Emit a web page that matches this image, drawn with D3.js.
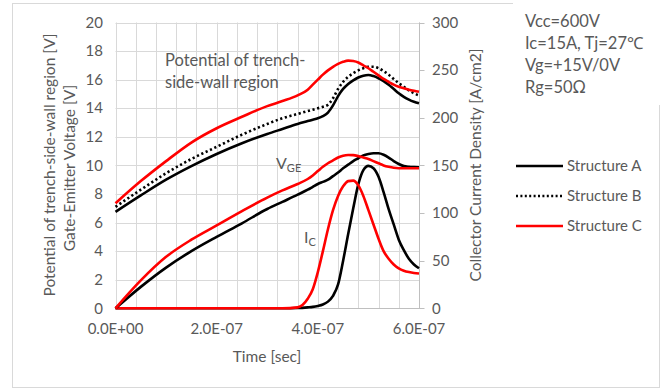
<!DOCTYPE html>
<html><head><meta charset="utf-8">
<script src="https://cdn.jsdelivr.net/npm/d3@7/dist/d3.min.js"></script>
<style>body{margin:0;background:#fff}svg{display:block}text{font-family:Lato,"Open Sans",sans-serif;fill:#595959}</style>
</head><body>
<svg id="c" width="665" height="389"></svg>
<script>
// time grid in units of 1e-8 s
const timeGrid = [0,5,10,15,20,25,30,33,36,38,39,40,41,42,43,44,45,46,47,48,49,50,51,52,53,54,55,56,57,58,59,60];
const potentialA = [6.75,7.9,9.0,9.95,10.8,11.55,12.2,12.55,12.9,13.1,13.2,13.3,13.45,13.7,14.2,14.85,15.35,15.7,15.95,16.15,16.28,16.33,16.25,16.1,15.9,15.65,15.35,15.05,14.8,14.6,14.45,14.35];
const potentialB = [7.1,8.3,9.45,10.45,11.3,12.15,12.9,13.3,13.6,13.8,13.9,14.0,14.1,14.25,14.7,15.35,15.85,16.2,16.45,16.65,16.8,16.9,16.9,16.8,16.6,16.35,16.05,15.75,15.5,15.25,15.05,14.9];
const potentialC = [7.35,8.9,10.3,11.6,12.6,13.4,14.15,14.5,14.9,15.3,15.65,16.0,16.35,16.65,16.9,17.1,17.25,17.33,17.3,17.2,17.0,16.8,16.55,16.3,16.05,15.85,15.65,15.5,15.4,15.3,15.22,15.15];
const vgeA = [0,1.5,2.85,4.0,5.0,5.95,6.95,7.45,7.95,8.3,8.5,8.7,8.85,9.0,9.25,9.5,9.8,10.05,10.3,10.5,10.7,10.8,10.85,10.85,10.75,10.55,10.3,10.1,9.95,9.9,9.88,9.87];
const vgeC = [0,1.95,3.6,4.8,5.8,6.8,7.75,8.25,8.7,9.05,9.3,9.6,9.9,10.15,10.35,10.55,10.68,10.73,10.72,10.65,10.55,10.45,10.3,10.15,10.0,9.9,9.83,9.8,9.8,9.8,9.8,9.8];
const icA = [0,0,0,0,0,0,0,0,0.3,1,1.5,2.5,4,7,13,25,50,78,105,130,145,149.5,147,138,122,104,88,72,61,52,46,42];
const icC = [0,0,0,0,0,0,0,0,1,10,20,38,60,83,103,118,128,133.5,134,129,118,103,88,73,60,52,46,42,39.5,38,37,36.5];
const xTicks = [0,2e-7,4e-7,6e-7];
const leftTicks = [0,2,4,6,8,10,12,14,16,18,20];
const rightTicks = [0,50,100,150,200,250,300];
const infoLines = ["Vcc=600V","Ic=15A, Tj=27\u2103","Vg=+15V/0V","Rg=50\u03A9"];
const legendNames = ["Structure A","Structure B","Structure C"];

const svg = d3.select("#c");
const x = d3.scaleLinear().domain([0,6e-7]).range([115.5,419]);
const yL = d3.scaleLinear().domain([0,20]).range([308.3,22.5]);
const yR = d3.scaleLinear().domain([0,300]).range([308.3,22.5]);
const tSec = timeGrid.map(t=>t*1e-8);

// border
svg.append("rect").attr("x",12.5).attr("y",3.5).attr("width",647).attr("height",384)
  .attr("fill","none").attr("stroke","#d9d9d9");
svg.append("rect").attr("x",513).attr("y",0).attr("width",152).attr("height",105).attr("fill","#fff");

// grid
const g = svg.append("g");
g.selectAll(".vg").data(d3.range(0,16)).enter().append("line")
  .attr("x1",i=>Math.round(x(i*4e-8))+0.5).attr("x2",i=>Math.round(x(i*4e-8))+0.5)
  .attr("y1",yL(20)).attr("y2",yL(0)).attr("stroke","#d9d9d9");
g.selectAll(".hg").data(leftTicks).enter().append("line")
  .attr("x1",x(0)).attr("x2",x(6e-7))
  .attr("y1",d=>Math.round(yL(d))+0.5).attr("y2",d=>Math.round(yL(d))+0.5).attr("stroke","#d9d9d9");

// right axis
const rx = Math.round(x(6e-7))+0.5;
svg.append("line").attr("x1",rx).attr("x2",rx).attr("y1",yR(300)).attr("y2",yR(0)).attr("stroke","#bfbfbf");
svg.selectAll(".rt").data(rightTicks).enter().append("line")
  .attr("x1",rx).attr("x2",rx+5).attr("y1",d=>Math.round(yR(d))+0.5).attr("y2",d=>Math.round(yR(d))+0.5).attr("stroke","#bfbfbf");
svg.append("line").attr("x1",x(0)).attr("x2",rx+3).attr("y1",Math.round(yL(0))+0.5).attr("y2",Math.round(yL(0))+0.5).attr("stroke","#bfbfbf");

// tick labels
svg.selectAll(".lt").data(leftTicks).enter().append("text")
  .attr("x",103).attr("y",d=>yL(d)).attr("dy","0.35em").attr("text-anchor","end")
  .style("font-size","15px").text(d=>d);
svg.selectAll(".rtl").data(rightTicks).enter().append("text")
  .attr("x",432).attr("y",d=>yR(d)).attr("dy","0.35em").attr("text-anchor","start")
  .style("font-size","15px").text(d=>d);
svg.selectAll(".xt").data(xTicks).enter().append("text")
  .attr("x",d=>x(d)).attr("y",329).attr("dy","0.35em").attr("text-anchor","middle")
  .style("font-size","15px").text(d=>d3.format(".1e")(d).replace("e","E").replace(/E([+-])(\d)$/,"E$10$2"));

// axis titles
svg.append("text").attr("transform","translate(55,165) rotate(-90)").attr("text-anchor","middle")
  .style("font-size","15.5px").text("Potential of trench-side-wall region [V]");
svg.append("text").attr("transform","translate(75,168) rotate(-90)").attr("text-anchor","middle")
  .style("font-size","15.5px").text("Gate-Emitter Voltage [V]");
svg.append("text").attr("transform","translate(481,165) rotate(-90)").attr("text-anchor","middle")
  .style("font-size","15.5px").text("Collector Current Density [A/cm2]");
svg.append("text").attr("x",267).attr("y",362).attr("text-anchor","middle")
  .style("font-size","15.5px").text("Time [sec]");

// lines
const lineL = d3.line().x((d,i)=>x(tSec[i])).y(d=>yL(d)).curve(d3.curveMonotoneX);
const lineR = d3.line().x((d,i)=>x(tSec[i])).y(d=>yR(d)).curve(d3.curveMonotoneX);
const series = [
  {v:icA, f:lineR, c:"#000", dash:null},
  {v:icC, f:lineR, c:"#ff0000", dash:null},
  {v:vgeA, f:lineL, c:"#000", dash:null},
  {v:vgeC, f:lineL, c:"#ff0000", dash:null},
  {v:potentialA, f:lineL, c:"#000", dash:null},
  {v:potentialB, f:lineL, c:"#000", dash:"2.2,2.6"},
  {v:potentialC, f:lineL, c:"#ff0000", dash:null}
];
series.forEach(s=>{
  svg.append("path").attr("d",s.f(s.v)).attr("fill","none").attr("stroke",s.c)
    .attr("stroke-width",2.6).attr("stroke-dasharray",s.dash).attr("stroke-linejoin","round");
});

// annotations
svg.append("text").attr("x",165).attr("y",66).style("font-size","16.5px").text("Potential of trench-");
svg.append("text").attr("x",165).attr("y",88).style("font-size","16.5px").text("side-wall region");
const vge = svg.append("text").attr("x",276).attr("y",169).style("font-size","16px");
vge.append("tspan").text("V");
vge.append("tspan").attr("dy",3).style("font-size","11px").text("GE");
const ic = svg.append("text").attr("x",304).attr("y",243).style("font-size","16px");
ic.append("tspan").text("I");
ic.append("tspan").attr("dy",3).style("font-size","11px").text("C");

// info box
svg.selectAll(".info").data(infoLines).enter().append("text")
  .attr("x",525).attr("y",(d,i)=>27+i*22).style("font-size","16.5px").text(d=>d);

// legend
const legStyle = [{c:"#000",dash:null},{c:"#000",dash:"2,2.4"},{c:"#ff0000",dash:null}];
legendNames.forEach((n,i)=>{
  const yy = 166 + i*30;
  svg.append("line").attr("x1",516).attr("x2",563).attr("y1",yy).attr("y2",yy)
    .attr("stroke",legStyle[i].c).attr("stroke-width",2.6).attr("stroke-dasharray",legStyle[i].dash);
  svg.append("text").attr("x",567).attr("y",yy).attr("dy","0.35em").style("font-size","15px").text(n);
});
</script>
</body></html>
